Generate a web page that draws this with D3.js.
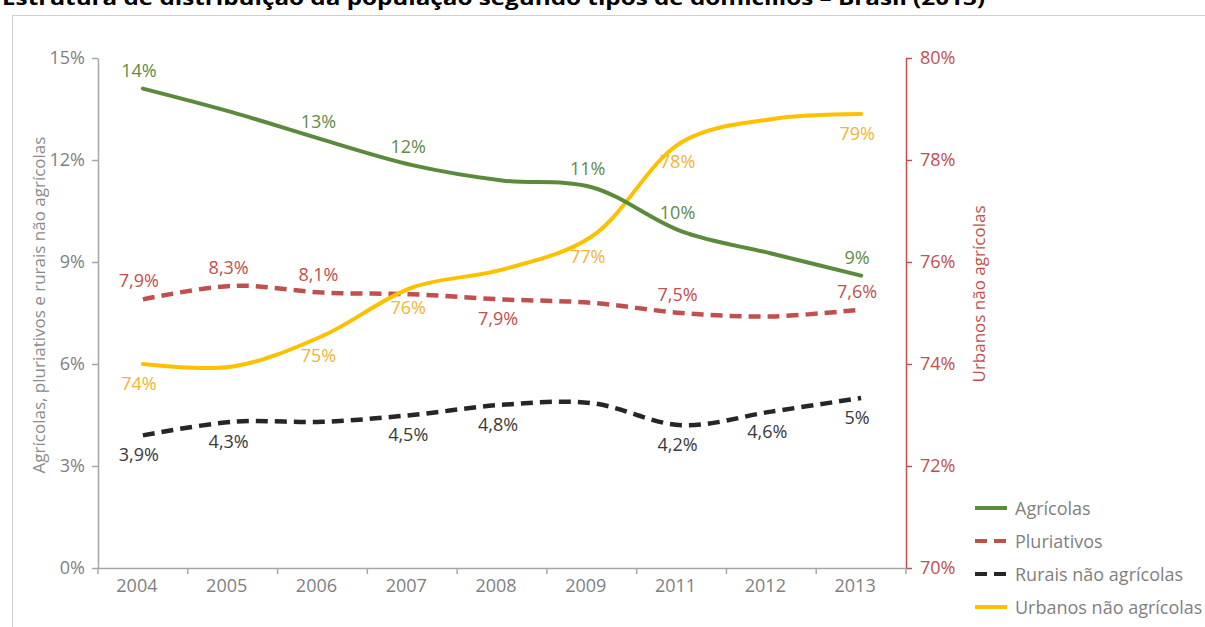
<!DOCTYPE html>
<html lang="pt-BR">
<head>
<meta charset="utf-8">
<title>Estrutura de distribuição da população segundo tipos de domicílios – Brasil (2013)</title>
<script src="https://cdn.jsdelivr.net/npm/d3@7/dist/d3.min.js"></script>
<style>
  html, body { margin: 0; padding: 0; background: #ffffff; }
  svg { display: block; font-family: "Open Sans", "Noto Sans", sans-serif; }
</style>
</head>
<body>
<svg id="chart" width="1205" height="627"></svg>
<script>
// ---- Data -------------------------------------------------------------
const years = ["2004", "2005", "2006", "2007", "2008", "2009", "2011", "2012", "2013"];

// Shares in % (left axis)
const agricolas          = [14.1, 13.4, 12.6, 11.85, 11.4, 11.2, 9.9, 9.25, 8.6];
const pluriativos        = [7.9, 8.3, 8.1, 8.05, 7.9, 7.8, 7.5, 7.4, 7.6];
const ruraisNaoAgricolas = [3.9, 4.3, 4.3, 4.5, 4.8, 4.85, 4.2, 4.6, 5.0];
// Share in % (right axis)
const urbanosNaoAgricolas = [74.0, 73.95, 74.55, 75.5, 75.85, 76.5, 78.35, 78.8, 78.9];

// Years that carry a data label, per series
const agricolasLabeled  = ["2004", "2006", "2007", "2009", "2011", "2013"];
const pluriativosLabeled = ["2004", "2005", "2006", "2008", "2011", "2013"];
const ruraisLabeled     = ["2004", "2005", "2007", "2008", "2011", "2012", "2013"];
const urbanosLabeled    = ["2004", "2006", "2007", "2009", "2011", "2013"];

const leftTicks  = [0, 3, 6, 9, 12, 15];
const rightTicks = [70, 72, 74, 76, 78, 80];

const legendNames = ["Agrícolas", "Pluriativos", "Rurais não agrícolas", "Urbanos não agrícolas"];

// ---- Layout & styles --------------------------------------------------
const plot = { left: 98, right: 906, top: 58, bottom: 568 };

const styles = {
  agricolas:  { stroke: "#5a8a3c", text: "#5f8c46", dash: null },
  pluriativos:{ stroke: "#c0504d", text: "#c0504d", dash: "12,7" },
  rurais:     { stroke: "#262626", text: "#3a3a3a", dash: "12,7" },
  urbanos:    { stroke: "#ffc000", text: "#f0b533", dash: null }
};

// label placement: "above" or "below" the point, per labelled year
const placement = {
  agricolas:  { default: "above" },
  pluriativos:{ default: "above", "2008": "below" },
  rurais:     { default: "below" },
  urbanos:    { default: "below" }
};

const svg = d3.select("#chart");

// ---- Frame and title --------------------------------------------------
svg.append("rect").attr("x", 14.5).attr("y", 17.5).attr("width", 1210).attr("height", 640)
  .attr("fill", "none").attr("stroke", "#e4e4e4").attr("stroke-width", 2);
svg.append("rect").attr("x", 12.5).attr("y", 15.5).attr("width", 1210).attr("height", 640)
  .attr("fill", "#ffffff").attr("stroke", "#cfcfcf").attr("stroke-width", 1);

svg.append("text")
  .attr("x", 2).attr("y", 5)
  .attr("font-size", 20).attr("font-weight", 700).attr("fill", "#000")
  .attr("textLength", 983).attr("lengthAdjust", "spacingAndGlyphs")
  .text("Estrutura de distribuição da população segundo tipos de domicílios – Brasil (2013)");

// ---- Scales -----------------------------------------------------------
const x = d3.scaleBand().domain(years).range([plot.left, plot.right]);
const cx = d => x(d) + x.bandwidth() / 2;
const yLeft  = d3.scaleLinear().domain([0, 15]).range([plot.bottom, plot.top]);
const yRight = d3.scaleLinear().domain([70, 80]).range([plot.bottom, plot.top]);

// ---- Axes -------------------------------------------------------------
const axisGrey = "#a6a6a6";
const labelGrey = "#7f7f7f";

const gLeft = svg.append("g").attr("transform", `translate(${plot.left},0)`)
  .call(d3.axisLeft(yLeft).tickValues(leftTicks).tickSize(6).tickSizeOuter(0).tickPadding(7)
    .tickFormat(d => d + "%"));
gLeft.select(".domain").attr("stroke", axisGrey).attr("stroke-width", 1.5);
gLeft.selectAll(".tick line").attr("stroke", axisGrey).attr("stroke-width", 1.5);
gLeft.selectAll(".tick text").attr("fill", labelGrey).attr("font-size", 18)
  .attr("font-family", "'Open Sans', sans-serif");

const redAxis = "#c0504d";
const gRight = svg.append("g").attr("transform", `translate(${plot.right},0)`)
  .call(d3.axisRight(yRight).tickValues(rightTicks).tickSize(6).tickSizeOuter(0).tickPadding(8)
    .tickFormat(d => d + "%"));
gRight.select(".domain").attr("stroke", redAxis).attr("stroke-width", 1.5);
gRight.selectAll(".tick line").attr("stroke", redAxis).attr("stroke-width", 1.5);
gRight.selectAll(".tick text").attr("fill", redAxis).attr("font-size", 18)
  .attr("font-family", "'Open Sans', sans-serif");

const gBottom = svg.append("g").attr("transform", `translate(0,${plot.bottom})`)
  .call(d3.axisBottom(x).tickSize(0).tickSizeOuter(0).tickPadding(11));
gBottom.select(".domain").attr("stroke", axisGrey).attr("stroke-width", 1.5);
gBottom.selectAll(".tick text").attr("fill", labelGrey).attr("font-size", 18)
  .attr("dx", -6).attr("font-family", "'Open Sans', sans-serif");
// category boundary ticks
gBottom.selectAll(".bound").data(years.concat(["end"])).join("line")
  .attr("class", "bound")
  .attr("x1", (d, i) => plot.left + i * x.bandwidth())
  .attr("x2", (d, i) => plot.left + i * x.bandwidth())
  .attr("y1", 0).attr("y2", 6)
  .attr("stroke", axisGrey).attr("stroke-width", 1.5);

// Axis titles
svg.append("text")
  .attr("transform", "translate(38,305) rotate(-90)")
  .attr("text-anchor", "middle").attr("dominant-baseline", "central")
  .attr("font-size", 17).attr("fill", "#8c8c8c")
  .text("Agrícolas, pluriativos e rurais não agrícolas");
svg.append("text")
  .attr("transform", "translate(978,294) rotate(-90)")
  .attr("text-anchor", "middle").attr("dominant-baseline", "central")
  .attr("font-size", 17).attr("fill", redAxis)
  .text("Urbanos não agrícolas");

// ---- Series -----------------------------------------------------------
const series = [
  { key: "agricolas",   values: agricolas,           y: yLeft,  labeled: agricolasLabeled,   fmt: v => d3.format(".0f")(v) + "%" },
  { key: "pluriativos", values: pluriativos,         y: yLeft,  labeled: pluriativosLabeled, fmt: v => d3.format(".1~f")(v).replace(".", ",") + "%" },
  { key: "rurais",      values: ruraisNaoAgricolas,  y: yLeft,  labeled: ruraisLabeled,      fmt: v => d3.format(".1~f")(v).replace(".", ",") + "%" },
  { key: "urbanos",     values: urbanosNaoAgricolas, y: yRight, labeled: urbanosLabeled,     fmt: v => d3.format(".0f")(v) + "%" }
];

const line = d3.line().curve(d3.curveCatmullRom.alpha(0.5));

// draw order: dashed series first, urban on top of them, agricultural last
["pluriativos", "rurais", "urbanos", "agricolas"].forEach(k => {
  const s = series.find(d => d.key === k);
  const st = styles[k];
  const pts = years.map((yr, i) => [cx(yr), s.y(s.values[i])]);
  svg.append("path")
    .attr("d", line(pts))
    .attr("fill", "none")
    .attr("stroke", st.stroke)
    .attr("stroke-width", st.dash ? 4.5 : 4)
    .attr("stroke-dasharray", st.dash)
    .attr("stroke-linecap", st.dash ? "butt" : "round");
});

// data labels
series.forEach(s => {
  const st = styles[s.key];
  const pl = placement[s.key];
  const items = years.map((yr, i) => ({ yr, v: s.values[i] })).filter(d => s.labeled.includes(d.yr));
  svg.append("g").selectAll("text").data(items).join("text")
    .attr("x", d => cx(d.yr) - 4)
    .attr("y", d => s.y(d.v) + (((pl[d.yr] || pl.default) === "above") ? -19 : 19))
    .attr("text-anchor", "middle")
    .attr("dominant-baseline", "central")
    .attr("font-size", 18)
    .attr("fill", st.text)
    .text(d => s.fmt(d.v));
});

// ---- Legend -----------------------------------------------------------
const legendKeys = ["agricolas", "pluriativos", "rurais", "urbanos"];
const legend = svg.append("g");
legendKeys.forEach((k, i) => {
  const st = styles[k];
  const ly = 508 + i * 33;
  legend.append("line")
    .attr("x1", 975).attr("x2", 1007).attr("y1", ly).attr("y2", ly)
    .attr("stroke", st.stroke).attr("stroke-width", 4)
    .attr("stroke-dasharray", st.dash ? "12,7" : null);
  legend.append("text")
    .attr("x", 1015).attr("y", ly)
    .attr("dominant-baseline", "central")
    .attr("font-size", 18).attr("fill", labelGrey)
    .text(legendNames[i]);
});
</script>
</body>
</html>
